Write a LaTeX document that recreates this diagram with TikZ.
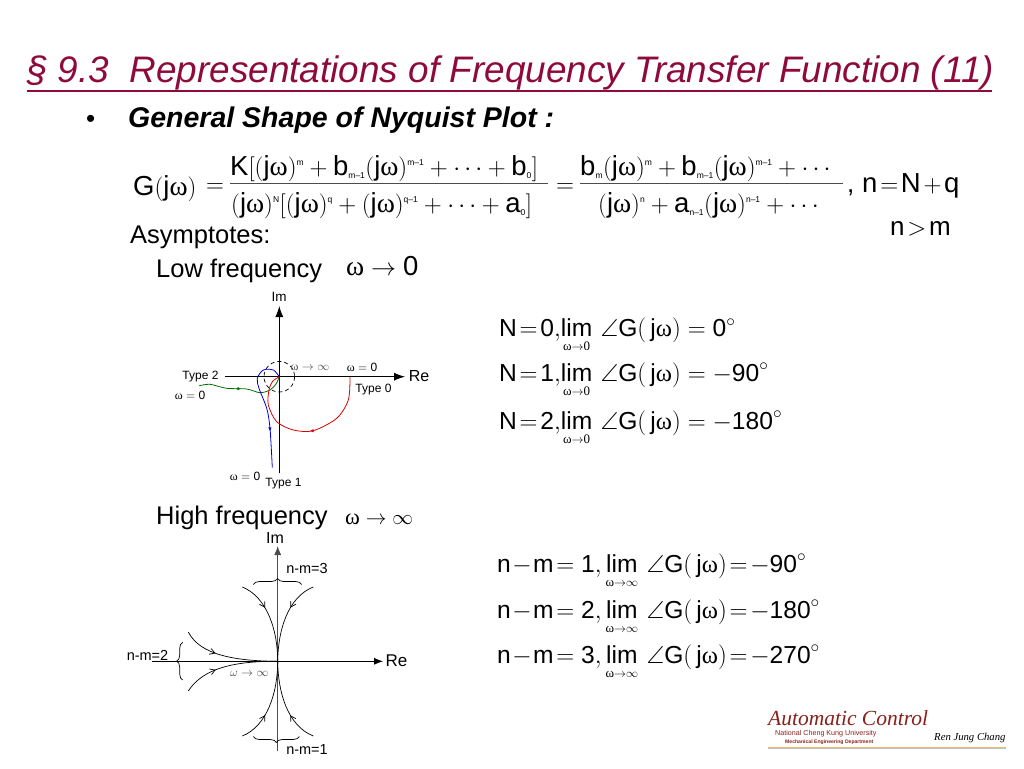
\documentclass[tikz,border=0pt]{standalone}
\usepackage{amsmath,amssymb}
\usepackage{fontspec}
\setmainfont{Liberation Sans}
\newfontfamily\omfont{Liberation Serif}
\usetikzlibrary{arrows.meta,decorations.markings,decorations.pathreplacing}

\definecolor{titlered}{HTML}{8E0A3C}
\definecolor{logored}{HTML}{8A1F1A}
\definecolor{rulegold}{HTML}{E8C070}
\newcommand{\om}{\mbox{\omfont ω}}
\newcommand{\jw}{\mathrm{j}\om}
\newcommand{\sm}[1]{\mbox{\fontsize{8.5}{9}\selectfont #1}}
\newcommand{\limto}[1]{\mathop{\mathrm{lim}}\limits_{\mbox{\fontsize{13}{14}\selectfont\omfont ω$\to$#1}}}
\newcommand{\ang}{\angle\mathrm{G}(\,\jw)}

\tikzset{
  bigeq/.style={anchor=base west,inner sep=0pt,font=\fontsize{26}{30}\selectfont},
  frac/.style={anchor=base west,inner sep=0pt,font=\fontsize{27.5}{31}\selectfont},
  limeq/.style={anchor=base west,inner sep=0pt,font=\fontsize{24.6}{28}\selectfont},
  lowtext/.style={anchor=base west,inner sep=0pt,font=\fontsize{25.5}{29}\selectfont},
  tag/.style={inner sep=0pt,font=\fontsize{12}{14}\selectfont},
  tagmid/.style={inner sep=0pt,font=\fontsize{13.5}{16}\selectfont},
  tagbig/.style={inner sep=0pt,font=\fontsize{16}{18}\selectfont},
  tagwide/.style={inner sep=0pt,font=\fontsize{14.5}{17}\selectfont},
  axisA/.style={line width=0.8pt,-{Latex[length=11pt,width=8pt]}},
  axisB/.style={line width=0.8pt,-{Latex[length=9pt,width=7pt]}},
  sweep/.style={line width=0.8pt},
  tick/.style={line width=0.5pt,-{Latex[length=3.5pt,width=3.5pt]}},
  tail/.style={line width=0.7pt,postaction={decorate,decoration={markings,mark=at position #1 with {\arrow{Straight Barb[length=5pt,width=6pt]}}}}},
  clasp/.style={line width=0.7pt,decorate,decoration={brace,amplitude=6pt}},
  barline/.style={line width=0.7pt,black!70}
}

\begin{document}
\begin{tikzpicture}[x=1pt,y=-1pt]
  \useasboundingbox (0,0) rectangle (1024,768);

  % heading
  \node[anchor=base west,inner sep=0pt,text=titlered,font=\fontsize{36.9}{40}\selectfont\itshape] (title) at (27,82)
    {§ 9.3\ \ Representations of Frequency Transfer Function (11)};
  \draw[titlered,line width=1.2pt] (title.base west) ++(0,9) -- ++(965,0);
  \node[anchor=base west,inner sep=0pt,font=\fontsize{26}{30}\selectfont] (dot) at (86,127) {•};
  \node[anchor=base west,inner sep=0pt,font=\fontsize{28.5}{32}\selectfont\bfseries\itshape] (shape) at (128,127)
    {General Shape of Nyquist Plot :};

  % transfer function
  \node[frac] (gain) at (133,195) {$\mathrm{G}(\jw)$};
  \node[bigeq] (eqa) at (206,192) {$=$};
  \node[frac] (numa) at (230,175) {$\mathrm{K}[(\jw)^{\sm{m}}+\mathrm{b}_{\sm{m--1}}(\jw)^{\sm{m--1}}+\cdots+\mathrm{b}_{\sm{0}}]$};
  \node[frac] (dena) at (231,212) {$(\jw)^{\sm{N}}[(\jw)^{\sm{q}}+(\jw)^{\sm{q--1}}+\cdots+\mathrm{a}_{\sm{0}}]$};
  \coordinate (barAl) at (230,183.5);
  \coordinate (barAr) at (548,183.5);
  \draw[barline] (barAl) -- (barAr);
  \node[bigeq] (eqb) at (556,192) {$=$};
  \node[frac] (numb) at (580,175) {$\mathrm{b}_{\sm{m}}(\jw)^{\sm{m}}+\mathrm{b}_{\sm{m--1}}(\jw)^{\sm{m--1}}+\cdots$};
  \node[frac] (denb) at (598,212) {$(\jw)^{\sm{n}}+\mathrm{a}_{\sm{n--1}}(\jw)^{\sm{n--1}}+\cdots$};
  \coordinate (barBl) at (580,183.5);
  \coordinate (barBr) at (843,183.5);
  \draw[barline] (barBl) -- (barBr);
  \node[bigeq] (comma) at (847,192) {,};
  \node[frac] (order) at (862,192) {$\mathrm{n}\!=\!\mathrm{N}\mkern-2mu+\mkern-2mu\mathrm{q}$};
  \node[bigeq] (bound) at (890,235) {$\mathrm{n}\!>\!\mathrm{m}$};
  \node[lowtext] (asym) at (130,243) {Asymptotes:};
  \node[lowtext] (lowf) at (156,277) {Low frequency};
  \node[frac] (lowlim) at (346,275) {$\om\to\mathrm{0}$};
  \node[lowtext] (highf) at (156,524) {High frequency};
  \node[bigeq,font=\fontsize{22.5}{26}\selectfont] (highlim) at (345,524) {$\om\to\infty$};

  % limits
  \node[limeq] (lowa) at (499,336) {$\mathrm{N}\!=\!\mathrm{0},\!\limto{0}\,\ang=\mathrm{0}^\circ$};
  \node[limeq] (lowb) at (499,381) {$\mathrm{N}\!=\!\mathrm{1},\!\limto{0}\,\ang=-\mathrm{90}^\circ$};
  \node[limeq] (lowc) at (499,429) {$\mathrm{N}\!=\!\mathrm{2},\!\limto{0}\,\ang=-\mathrm{180}^\circ$};
  \node[limeq] (higha) at (497,572) {$\mathrm{n}\!-\!\mathrm{m}\!=\mathrm{1},\limto{$\infty$}\,\ang\!=\!-\mathrm{90}^\circ$};
  \node[limeq] (highb) at (497,618) {$\mathrm{n}\!-\!\mathrm{m}\!=\mathrm{2},\limto{$\infty$}\,\ang\!=\!-\mathrm{180}^\circ$};
  \node[limeq] (highc) at (497,663) {$\mathrm{n}\!-\!\mathrm{m}\!=\mathrm{3},\limto{$\infty$}\,\ang\!=\!-\mathrm{270}^\circ$};

  % low frequency plot
  \coordinate (o1) at (279.3,376.7);
  \coordinate (reStart1) at (225,376.7);
  \coordinate (reEnd1) at (405,376.7);
  \coordinate (imStart1) at (279.3,473);
  \coordinate (imEnd1) at (279.3,306);
  \draw[axisA] (reStart1) -- (reEnd1);
  \draw[axisA] (imStart1) -- (imEnd1);
  \draw[line width=0.7pt,dash pattern=on 4pt off 3pt] (o1) circle (15.3);
  \draw[green!45!black,sweep] plot[smooth] coordinates {(199.3,385.7) (210,384.3) (226.7,388.3) (246.7,389) (260,392.7) (270,390) (276,384) (o1)};
  \draw[blue!85!black,sweep] plot[smooth] coordinates {(272.3,467.7) (270,428.3) (266.7,408.3) (259,388.3) (257.3,378.3) (263.3,370) (273.3,370) (o1)};
  \draw[red!85!black,sweep] plot[smooth] coordinates {(350,377) (348.3,400) (336.7,418.3) (313.3,430.7) (293.3,430) (276.7,421.7) (268.3,405) (269,390) (272.5,381.5) (o1)};
  \draw[tick,red!85!black] (314,430.7) -- (310,431);
  \draw[tick,blue!85!black] (270,427) -- (269.9,431);
  \draw[tick,green!45!black] (236,388.5) -- (241,388.7);
  \node[tagmid] (im1) at (279,297) {Im};
  \node[tagbig] (re1) at (419,376) {Re};
  \node[tag] (t2) at (200.5,377) {Type 2};
  \node[tag] (t1) at (283.5,483.5) {Type 1};
  \node[tag] (t0) at (373.5,390) {Type 0};
  \node[tag] (w2) at (190,395) {$\om=\mathrm{0}$};
  \node[tag] (w1) at (245,476) {$\om=\mathrm{0}$};
  \node[tag] (w0) at (362,367) {$\om=\mathrm{0}$};
  \node[tag,text=black!70] (winf1) at (310,368) {$\om\to\infty$};

  % high frequency plot
  \coordinate (o2) at (277.7,661.3);
  \coordinate (reStart2) at (151.7,661.3);
  \coordinate (reEnd2) at (383,661.3);
  \coordinate (imStart2) at (277.7,751);
  \coordinate (imEnd2) at (277.7,546);
  \coordinate (upR) at (313.3,587);
  \coordinate (upL) at (242.3,587);
  \coordinate (dnR) at (313.3,736);
  \coordinate (dnL) at (242.3,736);
  \coordinate (ltU) at (188.3,632);
  \coordinate (ltD) at (188.3,691);
  \draw[axisB] (reStart2) -- (reEnd2);
  \draw[axisB,black!70] (imStart2) -- (imEnd2);
  \draw[tail=0.36] (upR) .. controls (288,597) and (278,630) .. (o2);
  \draw[tail=0.36] (upL) .. controls (267,597) and (277.7,630) .. (o2);
  \draw[tail=0.36] (dnR) .. controls (288,726) and (278,693) .. (o2);
  \draw[tail=0.36] (dnL) .. controls (267,726) and (277.7,693) .. (o2);
  \draw[tail=0.36] (ltU) .. controls (200,655) and (235,661) .. (o2);
  \draw[tail=0.36] (ltD) .. controls (203,668) and (235,661) .. (o2);
  \coordinate (b3a) at (253.3,584.5);
  \coordinate (b3b) at (301.7,584.5);
  \coordinate (b1a) at (299.3,736.5);
  \coordinate (b1b) at (253.3,736.5);
  \coordinate (b2a) at (182.7,680);
  \coordinate (b2b) at (182.7,642.3);
  \draw[clasp] (b3a) -- (b3b);
  \draw[clasp] (b1a) -- (b1b);
  \draw[clasp] (b2a) -- (b2b);
  \node[tagbig] (im2) at (275,537.5) {Im};
  \node[tagbig,font=\fontsize{17}{19}\selectfont] (re2) at (396.5,661) {Re};
  \node[tagwide] (nm3) at (307,569) {n-m=3};
  \node[tagwide] (nm1) at (307,749) {n-m=1};
  \node[tagwide] (nm2) at (147.5,655) {n-m=2};
  \node[tag,text=black!75] (winf2) at (249.3,673.7) {$\omega\to\infty$};

  % logo
  \node[anchor=base west,inner sep=0pt,text=logored,font=\fontsize{21.5}{24}\selectfont\omfont\itshape] (auto) at (768,725) {Automatic Control};
  \node[anchor=base west,inner sep=0pt,text=logored,font=\fontsize{7.15}{9}\selectfont] (ncku) at (775,735) {National Cheng Kung University};
  \node[anchor=base west,inner sep=0pt,text=logored,font=\fontsize{5.1}{7}\selectfont\bfseries] (dept) at (785,743) {Mechanical Engineering Department};
  \node[anchor=base west,inner sep=0pt,font=\fontsize{10.7}{14}\selectfont\omfont\itshape] (sign) at (934,740) {Ren Jung Chang};
  \coordinate (ruleL) at (768,747.5);
  \coordinate (ruleR) at (1006,747.5);
  \draw[black!25,line width=1pt] ([yshift=-1.3pt]ruleL) -- ([yshift=-1.3pt]ruleR);
  \draw[rulegold,line width=1.2pt] (ruleL) -- (ruleR);
\end{tikzpicture}
\end{document}
